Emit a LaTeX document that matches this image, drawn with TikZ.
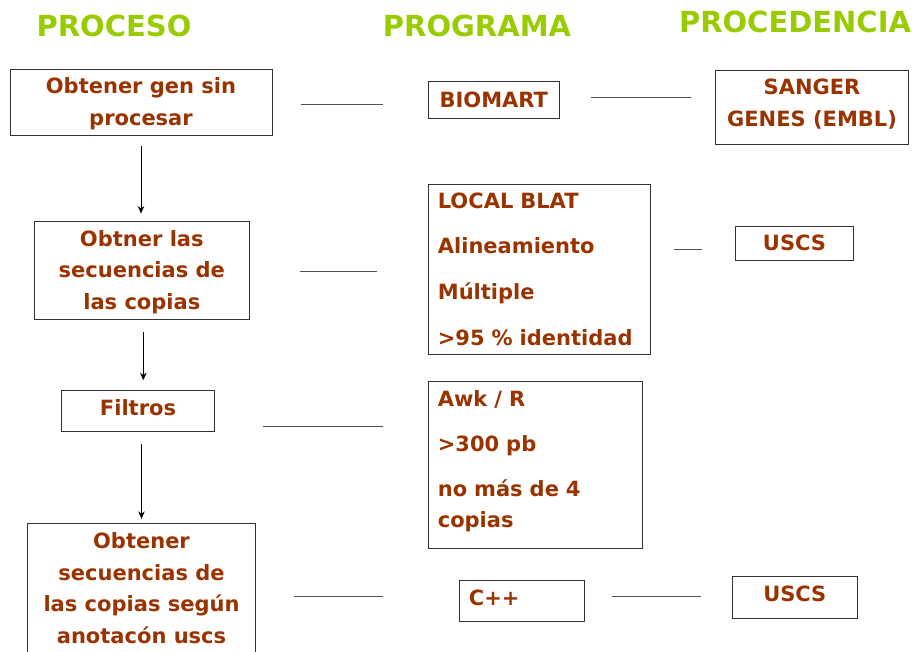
\documentclass[tikz,border=0pt]{standalone}
\usepackage{fontspec}
\setmainfont{DejaVu Sans}
\usepackage{tikz}
\usepackage{xcolor}
\usetikzlibrary{arrows.meta}
\definecolor{hdgreen}{HTML}{99CC00}
\definecolor{txbrown}{HTML}{993300}
\definecolor{lnink}{HTML}{333333}
\tikzset{
  headLabel/.style={font=\fontsize{29}{34}\selectfont\bfseries, text=hdgreen, inner sep=0pt},
  procBox/.style={draw=lnink, line width=0.9pt, align=center, inner sep=0pt, font=\fontsize{21}{31.6}\selectfont\bfseries, text=txbrown},
  progBox/.style={procBox, align=left, inner xsep=9.5pt},
  stepArrow/.style={-{Stealth[length=7.5pt,width=6.5pt]}, line width=0.9pt, draw=black},
  linkLine/.style={line width=1pt, draw=lnink!85}
}

\begin{document}
\begin{tikzpicture}[x=1pt, y=-1pt]
  \useasboundingbox (0,0) rectangle (912,651);

  \node[headLabel] (hProc) at (114,26) {PROCESO};
  \node[headLabel] (hProg) at (477,26) {PROGRAMA};
  \node[headLabel] (hSrc) at (795,22) {PROCEDENCIA};

  \node[procBox, minimum width=262pt, minimum height=66pt, text depth=1pt] (gen) at (141,102.3) {Obtener gen sin\\ procesar};
  \node[procBox, minimum width=214.3pt, minimum height=97.6pt, text depth=1pt] (copias) at (141.8,270.5) {Obtner las\\ secuencias de\\ las copias};
  \node[procBox, minimum width=152.6pt, minimum height=41.7pt, text depth=6pt] (filtros) at (138,410.8) {Filtros};
  \node[procBox, minimum width=228.4pt, minimum height=135pt, text depth=5pt] (anot) at (141.5,590.5) {Obtener\\ secuencias de\\ las copias según\\ anotacón uscs};

  \node[procBox, minimum width=131pt, minimum height=36.6pt] (biomart) at (493.8,100) {BIOMART};
  \node[progBox, text width=202.7pt, minimum width=221.7pt, minimum height=170pt] (blat) at (539.2,269) {LOCAL BLAT\\[14.1pt] Alineamiento\\[14.1pt] Múltiple\\[14.1pt] >95 \% identidad};
  \node[progBox, text width=195.4pt, minimum width=214.4pt, minimum height=166.6pt] (awk) at (535.5,465) {Awk / R\\[13.4pt] >300 pb\\[13.4pt] no más de 4\\ copias\rule[-12pt]{0pt}{12pt}};
  \node[progBox, text width=105.7pt, minimum width=124.7pt, minimum height=41.7pt, text depth=7pt] (cpp) at (521.7,600.8) {C++};

  \node[procBox, minimum width=193.4pt, minimum height=74pt, text depth=8.7pt] (sanger) at (812,107) {SANGER\\ GENES (EMBL)};
  \node[procBox, minimum width=117.6pt, minimum height=34.7pt] (uscsA) at (794.5,243.3) {USCS};
  \node[procBox, minimum width=124.3pt, minimum height=41.6pt, text depth=7pt] (uscsB) at (794.8,597.5) {USCS};

  \draw[stepArrow, shorten <=10.7pt, shorten >=7.7pt] (gen.south) -- (gen.south |- copias.north);
  \draw[stepArrow, shorten <=12.7pt, shorten >=9.3pt] ([xshift=1.5pt]copias.south) -- ([xshift=1.5pt]copias.south |- filtros.north);
  \draw[stepArrow, shorten <=12.3pt, shorten >=3.7pt] (anot.north |- filtros.south) -- (anot.north);

  % lineas sueltas entre columnas
  \coordinate (genL) at (300.7,104.3);
  \coordinate (genR) at (383.3,104.3);
  \coordinate (biomartL) at (591,97.3);
  \coordinate (biomartR) at (690.7,97.3);
  \coordinate (copiasL) at (300.3,271);
  \coordinate (copiasR) at (376.7,271);
  \coordinate (blatL) at (674,249.3);
  \coordinate (blatR) at (701.7,249.3);
  \coordinate (filtrosL) at (262.7,426);
  \coordinate (filtrosR) at (383.3,426);
  \coordinate (anotL) at (293.7,596);
  \coordinate (anotR) at (383.3,596);
  \coordinate (cppL) at (611.7,596);
  \coordinate (cppR) at (701,596);

  \draw[linkLine] (genL) -- (genR);
  \draw[linkLine] (biomartL) -- (biomartR);
  \draw[linkLine] (copiasL) -- (copiasR);
  \draw[linkLine] (blatL) -- (blatR);
  \draw[linkLine] (filtrosL) -- (filtrosR);
  \draw[linkLine] (anotL) -- (anotR);
  \draw[linkLine] (cppL) -- (cppR);
\end{tikzpicture}
\end{document}
